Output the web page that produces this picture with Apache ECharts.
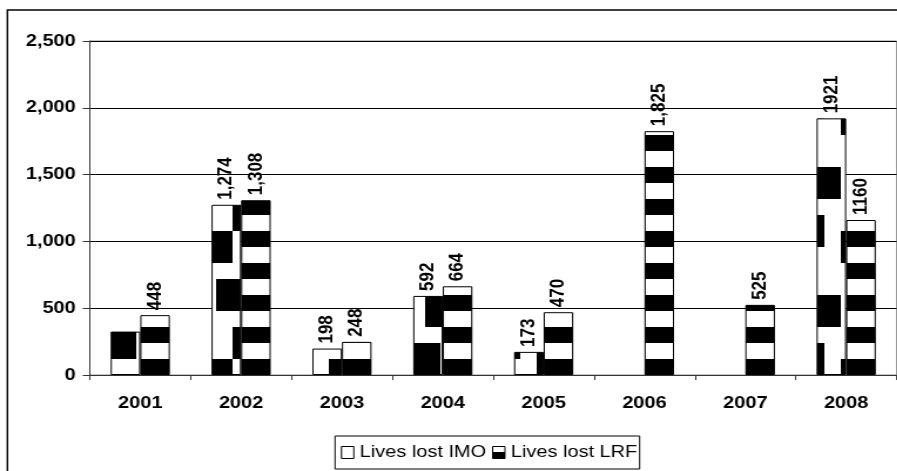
<!DOCTYPE html>
<html>
<head>
<meta charset="utf-8">
<script src="https://cdn.jsdelivr.net/npm/echarts@6/dist/echarts.min.js"></script>
<style>
  html, body { margin: 0; padding: 0; background: #fff; overflow: hidden; }
  /* the chart is laid out on a narrower canvas and widened on the page */
  #chart { width: 764px; height: 471px; transform: scaleX(1.1743119); transform-origin: 0 0; }
</style>
</head>
<body>
<div id="chart"></div>
<script>
// ---- data ----
const years = ['2001', '2002', '2003', '2004', '2005', '2006', '2007', '2008'];
const livesLostIMO = [325, 1274, 198, 592, 173, null, null, 1921];
const livesLostLRF = [448, 1308, 248, 664, 470, 1825, 525, 1160];
const imoLabels = ['', '1,274', '198', '592', '173', '', '', '1921'];
const lrfLabels = ['448', '1,308', '248', '664', '470', '1,825', '525', '1160'];
const yTickLabels = ['0', '500', '1,000', '1,500', '2,000', '2,500'];
const seriesNames = ['Lives lost IMO', 'Lives lost LRF'];

// ---- fill patterns (anchored to the canvas origin) ----
const SX = 128 / 109;   // horizontal stretch of the canvas on the page
const BASE_Y = 375;     // pixel row of the value axis zero
const CELL = 16;        // one pattern cell, in page pixels
const X0 = 8.6;         // horizontal phase of the checker cells

// large confetti checker, rows listed from the baseline upwards, columns left to right
const imoCells = [
  '01101100',
  '01100011',
  '00000011',
  '00110000',
  '00110110',
  '10000110',
  '11000001',
  '01001101'
];

function makeTile(w, h, isBlack) {
  const c = document.createElement('canvas');
  c.width = w; c.height = h;
  const ctx = c.getContext('2d');
  ctx.fillStyle = '#ffffff';
  ctx.fillRect(0, 0, w, h);
  ctx.fillStyle = '#000000';
  for (let y = 0; y < h; y++) {
    for (let x = 0; x < w; x++) {
      if (isBlack(x, y)) ctx.fillRect(x, y, 1, 1);
    }
  }
  return c;
}
const mod = (a, n) => ((a % n) + n) % n;

const imoTile = makeTile(109, 128, (tx, ty) => {
  const col = Math.floor(mod((tx + 0.5) * SX - X0, 128) / CELL);
  const row = Math.floor(mod(BASE_Y - (ty + 0.5), 128) / CELL);
  return imoCells[row][col] === '1';
});
const lrfTile = makeTile(4, 32, (tx, ty) => mod(BASE_Y - (ty + 0.5), 32) < CELL);

const FONT = "'Liberation Sans', Arial, Helvetica, sans-serif";

const barLabel = (texts) => ({
  show: true,
  position: 'top',
  rotate: 90,
  align: 'left',
  verticalAlign: 'middle',
  distance: 5,
  fontFamily: FONT,
  fontSize: 17,
  fontWeight: 'bold',
  color: '#000',
  formatter: (p) => texts[p.dataIndex]
});

const chart = echarts.init(document.getElementById('chart'), null, { renderer: 'canvas' });
chart.setOption({
  animation: false,
  backgroundColor: '#ffffff',
  graphic: [{
    type: 'rect',
    silent: true,
    shape: { x: 6.3, y: 10, width: 1000, height: 1000 },
    style: { fill: 'none', stroke: '#000', lineWidth: 1.4 }
  }],
  grid: {
    left: 76.5, right: 0.5, top: 41, bottom: 96,
    show: true, borderColor: '#8a8a8a', borderWidth: 1, backgroundColor: 'transparent'
  },
  legend: {
    left: 285.3, top: 436,
    orient: 'horizontal',
    itemWidth: 10.5, itemHeight: 12, itemGap: 5,
    padding: [8, 2, 8, 5],
    borderColor: '#000', borderWidth: 1,
    textStyle: { fontFamily: FONT, fontSize: 17, color: '#000' },
    data: [
      { name: seriesNames[0], icon: 'rect',
        itemStyle: { color: '#fff', borderColor: '#000', borderWidth: 1 } },
      { name: seriesNames[1], icon: 'rect',
        itemStyle: {
          color: { type: 'linear', x: 0, y: 0, x2: 0, y2: 1, colorStops: [
            { offset: 0, color: '#fff' }, { offset: 0.5, color: '#fff' },
            { offset: 0.5, color: '#000' }, { offset: 1, color: '#000' } ] },
          borderColor: '#000', borderWidth: 1 } }
    ]
  },
  xAxis: {
    type: 'category',
    data: years,
    axisLine: { lineStyle: { color: '#333', width: 1 } },
    axisTick: { show: true, alignWithLabel: false, length: 5, lineStyle: { color: '#333' } },
    axisLabel: { margin: 20, fontFamily: FONT, fontSize: 17, fontWeight: 'bold', color: '#000' }
  },
  yAxis: {
    type: 'value',
    min: 0, max: 2500, interval: 500,
    axisLine: { show: true, lineStyle: { color: '#333', width: 1 } },
    axisTick: { show: true, length: 6, lineStyle: { color: '#333' } },
    splitLine: { show: true, lineStyle: { color: '#000', width: 1 } },
    axisLabel: {
      margin: 12, fontFamily: FONT, fontSize: 17, fontWeight: 'bold', color: '#000',
      formatter: (v) => yTickLabels[Math.round(v / 500)]
    }
  },
  series: [
    {
      name: seriesNames[0], type: 'bar', data: livesLostIMO,
      barWidth: 25.2, barGap: '0%',
      itemStyle: { color: { image: imoTile, repeat: 'repeat' }, borderColor: '#000', borderWidth: 1 },
      label: barLabel(imoLabels)
    },
    {
      name: seriesNames[1], type: 'bar', data: livesLostLRF,
      barWidth: 25.2, barGap: '0%',
      itemStyle: { color: { image: lrfTile, repeat: 'repeat' }, borderColor: '#000', borderWidth: 1 },
      label: barLabel(lrfLabels)
    }
  ]
});
</script>
</body>
</html>
